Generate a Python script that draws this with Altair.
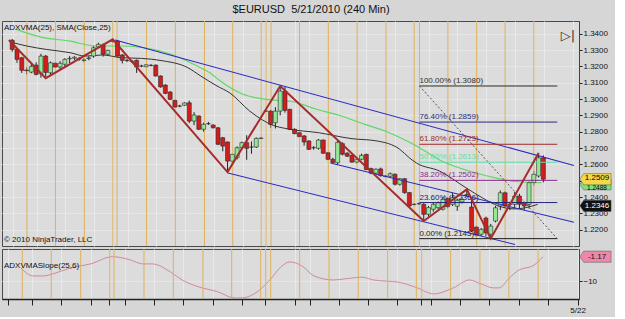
import altair as alt
import pandas as pd

TITLE = "$EURUSD\u00a0 5/21/2010 (240 Min)"
MAIN_LABEL = "ADXVMA(25), SMA(Close,25)"
COPYRIGHT = "\u00a9 2010 NinjaTrader, LLC"
LOWER_LABEL = "ADXVMASlope(25,6)"
DATE_LABEL = "5/22"

bar_open = [1.3360, 1.3304, 1.3253, 1.3178, 1.3165, 1.3208, 1.3155, 1.3263, 1.3161, 1.3219,
            1.3196, 1.3213, 1.3247, 1.3250, 1.3247, 1.3237, 1.3248, 1.3263, 1.3319, 1.3331,
            1.3274, 1.3352, 1.3355, 1.3270, 1.3237, 1.3230, 1.3237, 1.3202, 1.3198, 1.3206,
            1.3208, 1.3141, 1.3086, 1.3043, 1.2992, 1.2957, 1.2962, 1.2977, 1.2865, 1.2896,
            1.2815, 1.2849, 1.2841, 1.2824, 1.2763, 1.2737, 1.2620, 1.2641, 1.2702, 1.2733,
            1.2706, 1.2706, 1.2759, 1.2926, 1.2926, 1.2855, 1.2926, 1.3049, 1.2937, 1.2815,
            1.2794, 1.2774, 1.2743, 1.2702, 1.2698, 1.2749, 1.2671, 1.2631, 1.2610, 1.2727,
            1.2668, 1.2655, 1.2614, 1.2631, 1.2661, 1.2574, 1.2546, 1.2572, 1.2527, 1.2527,
            1.2539, 1.2478, 1.2512, 1.2427, 1.2355, 1.2359, 1.2355, 1.2294, 1.2325, 1.2335,
            1.2325, 1.2390, 1.2355, 1.2343, 1.2370, 1.2413, 1.2339, 1.2216, 1.2172, 1.2271,
            1.2172, 1.2253, 1.2345, 1.2426, 1.2355, 1.2355, 1.2406, 1.2365, 1.2355, 1.2488,
            1.2529, 1.2640]
bar_high = [1.3368, 1.3310, 1.3258, 1.3196, 1.3215, 1.3225, 1.3277, 1.3270, 1.3230, 1.3225,
            1.3232, 1.3250, 1.3263, 1.3262, 1.3258, 1.3250, 1.3262, 1.3325, 1.3345, 1.3340,
            1.3302, 1.3366, 1.3362, 1.3275, 1.3245, 1.3240, 1.3242, 1.3210, 1.3215, 1.3215,
            1.3212, 1.3145, 1.3090, 1.3048, 1.2995, 1.2965, 1.2980, 1.2990, 1.2920, 1.2900,
            1.2855, 1.2860, 1.2845, 1.2828, 1.2768, 1.2740, 1.2665, 1.2710, 1.2740, 1.2778,
            1.2740, 1.2765, 1.2765, 1.2932, 1.2935, 1.2950, 1.3080, 1.3075, 1.2940, 1.2820,
            1.2800, 1.2780, 1.2748, 1.2712, 1.2755, 1.2752, 1.2675, 1.2640, 1.2745, 1.2735,
            1.2675, 1.2660, 1.2640, 1.2665, 1.2665, 1.2580, 1.2575, 1.2580, 1.2535, 1.2550,
            1.2545, 1.2515, 1.2515, 1.2430, 1.2362, 1.2365, 1.2362, 1.2345, 1.2365, 1.2372,
            1.2400, 1.2400, 1.2425, 1.2390, 1.2400, 1.2447, 1.2385, 1.2225, 1.2210, 1.2280,
            1.2235, 1.2345, 1.2440, 1.2435, 1.2370, 1.2430, 1.2420, 1.2372, 1.2495, 1.2560,
            1.2670, 1.2655]
bar_low = [1.3290, 1.3222, 1.3160, 1.3151, 1.3158, 1.3145, 1.3131, 1.3128, 1.3145, 1.3190,
           1.3183, 1.3200, 1.3221, 1.3240, 1.3235, 1.3225, 1.3238, 1.3253, 1.3312, 1.3260,
           1.3268, 1.3345, 1.3255, 1.3218, 1.3228, 1.3222, 1.3160, 1.3195, 1.3195, 1.3200,
           1.3138, 1.3070, 1.3030, 1.2995, 1.2948, 1.2950, 1.2958, 1.2853, 1.2840, 1.2810,
           1.2800, 1.2842, 1.2820, 1.2718, 1.2680, 1.2553, 1.2600, 1.2630, 1.2690, 1.2628,
           1.2665, 1.2700, 1.2755, 1.2920, 1.2824, 1.2820, 1.2900, 1.2917, 1.2810, 1.2785,
           1.2765, 1.2715, 1.2688, 1.2690, 1.2690, 1.2665, 1.2625, 1.2605, 1.2600, 1.2655,
           1.2645, 1.2610, 1.2605, 1.2625, 1.2565, 1.2540, 1.2540, 1.2525, 1.2520, 1.2520,
           1.2470, 1.2470, 1.2420, 1.2340, 1.2348, 1.2352, 1.2253, 1.2280, 1.2310, 1.2325,
           1.2318, 1.2330, 1.2345, 1.2315, 1.2360, 1.2405, 1.2185, 1.2155, 1.2160, 1.2160,
           1.2145, 1.2245, 1.2320, 1.2335, 1.2320, 1.2330, 1.2330, 1.2320, 1.2330, 1.2470,
           1.2520, 1.2490]
bar_close = [1.3304, 1.3243, 1.3176, 1.3174, 1.3200, 1.3151, 1.3263, 1.3163, 1.3222, 1.3196,
             1.3219, 1.3243, 1.3249, 1.3256, 1.3245, 1.3239, 1.3252, 1.3314, 1.3335, 1.3274,
             1.3298, 1.3358, 1.3263, 1.3237, 1.3235, 1.3232, 1.3196, 1.3202, 1.3210, 1.3206,
             1.3141, 1.3074, 1.3035, 1.2998, 1.2951, 1.2957, 1.2976, 1.2865, 1.2902, 1.2815,
             1.2845, 1.2849, 1.2824, 1.2723, 1.2712, 1.2620, 1.2661, 1.2702, 1.2733, 1.2698,
             1.2706, 1.2759, 1.2761, 1.2926, 1.2845, 1.2926, 1.3049, 1.2931, 1.2815, 1.2788,
             1.2770, 1.2737, 1.2692, 1.2702, 1.2749, 1.2668, 1.2631, 1.2612, 1.2735, 1.2662,
             1.2650, 1.2614, 1.2631, 1.2655, 1.2568, 1.2546, 1.2570, 1.2531, 1.2527, 1.2543,
             1.2478, 1.2512, 1.2427, 1.2345, 1.2355, 1.2359, 1.2294, 1.2335, 1.2355, 1.2365,
             1.2386, 1.2341, 1.2396, 1.2380, 1.2385, 1.2415, 1.2192, 1.2167, 1.2202, 1.2181,
             1.2222, 1.2334, 1.2426, 1.2345, 1.2355, 1.2406, 1.2355, 1.2345, 1.2488, 1.2539,
             1.2640, 1.2509]

sma_idx = [-0.3, 3.0, 7.1, 12.1, 15.3, 18.8, 22.9, 27.0, 31.1, 36.7, 39.4, 42.8, 45.5, 49.6,
           52.3, 54.1, 57.8, 64.0, 70.8, 76.3, 81.0, 83.0, 84.5, 89.3, 94.8, 98.3, 101.6,
           105.1, 107.9, 109.8]
sma_val = [1.3349, 1.3325, 1.3304, 1.3284, 1.3263, 1.3270, 1.3253, 1.3249, 1.3236, 1.3192,
           1.3141, 1.3080, 1.3037, 1.2927, 1.2872, 1.2844, 1.2816, 1.2794, 1.2758, 1.2743,
           1.2692, 1.2640, 1.2608, 1.2559, 1.2457, 1.2394, 1.2345, 1.2327, 1.2339, 1.2355]

vma_idx = [0.8, 6.5, 12.1, 17.4, 22.9, 27.7, 33.2, 37.9, 41.4, 43.5, 48.2, 53.1, 58.5, 63.4,
           68.1, 73.7, 78.4, 82.5, 84.5, 89.3, 96.2, 101.6, 105.1, 110.6]
vma_val = [1.3427, 1.3376, 1.3355, 1.3325, 1.3325, 1.3314, 1.3274, 1.3213, 1.3159, 1.3110,
           1.3029, 1.2998, 1.2985, 1.2939, 1.2902, 1.2845, 1.2798, 1.2743, 1.2713, 1.2627,
           1.2553, 1.2513, 1.2495, 1.2488]

zig_idx = [-0.7, 7, 21, 45, 56, 86, 95, 100, 110]
zig_val = [1.3362, 1.3128, 1.3366, 1.2553, 1.3080, 1.2253, 1.2447, 1.2145, 1.2670]

chan_name = ["upper", "middle", "lower"]
chan_i0 = [21.5, 66.5, 45.1]
chan_v0 = [1.3362, 1.2608, 1.2547]
chan_i1 = [117.4, 117.4, 105.1]
chan_v1 = [1.2593, 1.2245, 1.2109]

fib_pct = ["100.00%", "76.40%", "61.80%", "50.00%", "38.20%", "23.60%", "0.00%"]
fib_val = [1.3080, 1.2859, 1.2723, 1.2613, 1.2502, 1.2366, 1.2145]
fib_col = ["#2e2e2e", "#2c2c80", "#9c2c2c", "#5ee0a8", "#8c2a8c", "#20207a", "#1c1c1c"]
fib_i0, fib_i1 = 85.1, 113.9

session_idx = [3.08, 9.03, 15.07, 21.03, 21.91, 28.07, 34.09, 40.18, 46.08, 52.03, 53.06,
               54.09, 60.04, 66.06, 72.07, 78.11, 84.0, 85.1, 91.05, 97.06, 103.0, 109.0]
tick_idx = [0.10, 5.09, 11.07, 17.12, 20.97, 24.15, 30.12, 36.10, 42.16, 48.13, 52.96, 59.02,
            62.06, 68.03, 74.01, 79.98, 84.97, 87.00, 92.98, 98.95, 105.01, 111.06, 117.12]
price_ticks = [1.22, 1.23, 1.24, 1.25, 1.26, 1.27, 1.28, 1.29, 1.30, 1.31, 1.32, 1.33, 1.34]
hidden_price_label = 1.25

slope_idx = [2.8, 5.3, 7.3, 9.8, 13.0, 17.1, 21.6, 25.3, 27.8, 29.8, 33.5, 35.9, 39.2, 43.3,
             46.6, 48.2, 50.7, 53.9, 56.4, 58.0, 60.5, 63.0, 67.0, 69.5, 72.8, 75.2, 78.1,
             80.1, 84.2, 87.5, 91.6, 94.9, 97.3, 99.8, 101.0, 103.1, 105.1, 107.9, 110.0]
slope_val = [-5.24, -8.15, -8.15, -7.13, -5.24, -3.78, -1.16, -2.33, -3.78, -3.78, -6.69,
             -9.6, -12.04, -13.93, -16.1, -16.1, -14.65, -9.6, -4.51, -3.05, -4.51, -8.15,
             -9.6, -9.16, -8.58, -9.6, -10.04, -10.33, -12.47, -14.65, -12.47, -9.6, -11.02,
             -12.47, -12.47, -8.87, -5.96, -4.51, -1.17]
slope_ticks = [-10]

tag_price = [1.2478, 1.2509, 1.2346]
tag_text = ["1.2488", "1.2509", "1.2346"]
tag_fill = ["#7ee07e", "#f4d84a", "#111111"]
tag_ink = ["#000000", "#000000", "#ffffff"]
tag_dy = [3.5, -1.5, 0]
tag_fs = [6.5, 8, 8]
slope_tag = -1.17

FONT = "Liberation Sans"
W, H1, H2 = 577, 225, 50
TAG = "M -2.3 0 L -1.75 -0.8 L 2.15 -0.8 L 2.15 0.8 L -1.75 0.8 Z"

xs = alt.Scale(domain=[-1.09, 117.4], nice=False, zero=False)
ys = alt.Scale(domain=[1.2100, 1.3478], nice=False, zero=False)
ys2 = alt.Scale(domain=[-16.5, 1.63], nice=False, zero=False)

AX_X = alt.Axis(values=tick_idx, grid=True, gridColor="#e9e9e9", labels=False, ticks=False,
                domain=False, title=None)
AX_Y = alt.Axis(orient="right", values=price_ticks, tickSize=3, labelPadding=1,
                labelExpr=f"abs(datum.value - {hidden_price_label}) < 0.00001 ? '' : format(datum.value, '.4f')",
                grid=True, gridColor="#e6e6e6", title=None, domainColor="#444444",
                labelOverlap=False)
AX_X2 = alt.Axis(values=tick_idx, grid=True, gridColor="#e9e9e9", tickSize=6,
                 tickColor="#222222", domainColor="#222222", domainWidth=1.5,
                 labelExpr=f"datum.value > 116 ? '{DATE_LABEL}' : ''",
                 labelFlush=False, labelOverlap=False, labelPadding=1, title=None)
AX_Y2 = alt.Axis(orient="right", values=slope_ticks, format="d", tickSize=3, labelPadding=1,
                 grid=True, gridColor="#e6e6e6", title=None, domainColor="#444444")

def X(f):
    return alt.X(f, scale=xs, axis=AX_X)

def Y(f):
    return alt.Y(f, scale=ys, axis=AX_Y)

def X2(f):
    return alt.X(f, scale=xs, axis=AX_X2)

def Y2(f):
    return alt.Y(f, scale=ys2, axis=AX_Y2)

bars = pd.DataFrame({"i": list(range(len(bar_open))), "o": bar_open, "h": bar_high,
                     "l": bar_low, "c": bar_close})
bars["dir"] = ["up" if c >= o else "down" for o, c in zip(bar_open, bar_close)]
sess = pd.DataFrame({"i": session_idx})
sma = pd.DataFrame({"i": sma_idx, "v": sma_val})
vma = pd.DataFrame({"i": vma_idx, "v": vma_val})
zig = pd.DataFrame({"i": zig_idx, "v": zig_val})
chan = pd.DataFrame({"name": chan_name * 2, "i": chan_i0 + chan_i1, "v": chan_v0 + chan_v1})
fib = pd.DataFrame({"i": [fib_i0] * len(fib_val), "i1": [fib_i1] * len(fib_val),
                    "v": fib_val, "col": fib_col,
                    "txt": [f"{p} ({v:.4f})" for p, v in zip(fib_pct, fib_val)]})
fibdiag = pd.DataFrame({"i": [fib_i0, fib_i1], "v": [fib_val[0], fib_val[-1]]})
slope = pd.DataFrame({"i": slope_idx, "v": slope_val})
one = pd.DataFrame({"a": [0]})

sessions = alt.Chart(sess).mark_rule(color="#dfb15a", strokeWidth=1).encode(x=X("i:Q"))
wicks = alt.Chart(bars).mark_rule(color="#222222", strokeWidth=1).encode(
    x=X("i:Q"), y=Y("l:Q"), y2="h:Q")
bodies = alt.Chart(bars).mark_bar(size=4, stroke="#2a2a2a", strokeWidth=0.6).encode(
    x=X("i:Q"), y=Y("o:Q"), y2="c:Q",
    color=alt.Color("dir:N", scale=alt.Scale(domain=["up", "down"],
                                             range=["#96e896", "#d41c1c"]), legend=None))
sma_line = alt.Chart(sma).mark_line(color="#333333", strokeWidth=1,
                                    interpolate="monotone").encode(x=X("i:Q"), y=Y("v:Q"))
vma_line = alt.Chart(vma).mark_line(color="#5fd85f", strokeWidth=1.2,
                                    interpolate="monotone").encode(x=X("i:Q"), y=Y("v:Q"))
chan_lines = alt.Chart(chan).mark_line(color="#2a2ac0", strokeWidth=1.1).encode(
    x=X("i:Q"), y=Y("v:Q"), detail="name:N")
fib_rules = alt.Chart(fib).mark_rule(strokeWidth=1).encode(
    x=X("i:Q"), x2="i1:Q", y=Y("v:Q"), color=alt.Color("col:N", scale=None))
fib_text = alt.Chart(fib).mark_text(align="left", baseline="bottom", dy=-1, fontSize=8,
                                    font=FONT).encode(
    x=X("i:Q"), y=Y("v:Q"), text="txt:N", color=alt.Color("col:N", scale=None))
fib_diag = alt.Chart(fibdiag).mark_line(color="#555555", strokeWidth=1,
                                        strokeDash=[2, 2]).encode(x=X("i:Q"), y=Y("v:Q"))
zig_line = alt.Chart(zig).mark_line(color="#a52c2c", strokeWidth=2).encode(
    x=X("i:Q"), y=Y("v:Q"))

tag_layers = []
for p, t, f, ink, dy, fs in zip(tag_price, tag_text, tag_fill, tag_ink, tag_dy, tag_fs):
    d = pd.DataFrame({"v": [p], "txt": [t]})
    tag_layers.append(alt.Chart(d).mark_point(shape=TAG, size=196, filled=True, opacity=1,
                                              color=f, stroke="#555555",
                                              strokeWidth=0.5).encode(
        x=alt.value(W + 17), y=Y("v:Q")))
    tag_layers.append(alt.Chart(d).mark_text(fontSize=fs, font=FONT, align="center",
                                             baseline="middle", dy=dy, color=ink).encode(
        x=alt.value(W + 18), y=Y("v:Q"), text="txt:N"))

label_main = alt.Chart(one).mark_text(align="left", baseline="middle", fontSize=8, font=FONT,
                                      color="#111111").encode(
    x=alt.value(2), y=alt.value(7), text=alt.value(MAIN_LABEL))
label_copy = alt.Chart(one).mark_text(align="left", baseline="middle", fontSize=8, font=FONT,
                                      color="#111111").encode(
    x=alt.value(2), y=alt.value(219), text=alt.value(COPYRIGHT))
icon = alt.Chart(one).mark_text(align="center", baseline="middle", fontSize=13,
                                font="DejaVu Sans", color="#333333").encode(
    x=alt.value(W - 11), y=alt.value(15), text=alt.value("\u25b7|"))

main = alt.layer(wicks, sessions, sma_line, vma_line, bodies, chan_lines, fib_rules, fib_text,
                 fib_diag, zig_line, *tag_layers, label_main, label_copy,
                 icon).properties(width=W, height=H1)

sess2 = alt.Chart(sess).mark_rule(color="#dfb15a", strokeWidth=1).encode(x=X2("i:Q"))
slope_line = alt.Chart(slope).mark_line(color="#d4879a", strokeWidth=1,
                                        interpolate="monotone").encode(x=X2("i:Q"), y=Y2("v:Q"))
stag_d = pd.DataFrame({"v": [slope_tag], "txt": [f"{slope_tag:.2f}"]})
stag_mark = alt.Chart(stag_d).mark_point(shape=TAG, size=196, filled=True, opacity=1,
                                         stroke="#555555", strokeWidth=0.5,
                                         color="#ee88a8").encode(
    x=alt.value(W + 17), y=Y2("v:Q"))
stag_text = alt.Chart(stag_d).mark_text(fontSize=8, font=FONT, align="center",
                                        baseline="middle", color="#111111").encode(
    x=alt.value(W + 18), y=Y2("v:Q"), text="txt:N")
label_low = alt.Chart(one).mark_text(align="left", baseline="middle", fontSize=8, font=FONT,
                                     color="#111111").encode(
    x=alt.value(2), y=alt.value(17), text=alt.value(LOWER_LABEL))

lower = alt.layer(slope_line, sess2, stag_mark, stag_text, label_low).properties(
    width=W, height=H2)

chart = alt.vconcat(main, lower, spacing=0).properties(
    title=alt.TitleParams(TITLE, anchor="middle", frame="bounds", fontSize=11, font=FONT,
                          fontWeight="normal", color="#111111", offset=5, dx=4),
    background="#d6d6d6",
    padding={"left": 1, "top": 4, "right": 2, "bottom": 2},
).configure_view(fill="#dcdcdc", stroke="#4a4a4a", strokeWidth=1).configure_axis(
    labelFont=FONT, labelFontSize=8, labelColor="#111111", tickColor="#222222"
)

chart.save("out.html", embed_options={"renderer": "svg", "actions": False})
